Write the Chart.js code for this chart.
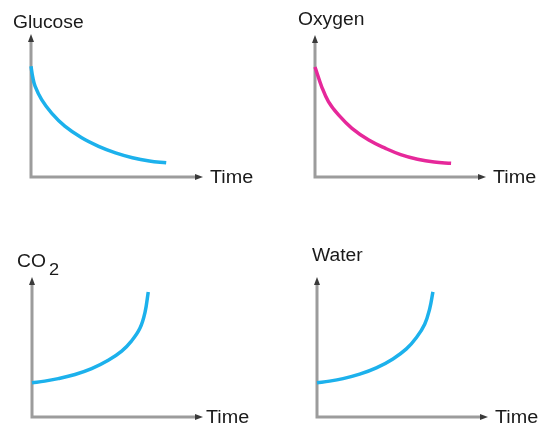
<!DOCTYPE html>
<html>
<head>
<meta charset="utf-8">
<title>Respiration graphs</title>
<script src="https://cdn.jsdelivr.net/npm/chart.js@4.4.1/dist/chart.umd.min.js"></script>
<style>
  html, body { margin: 0; padding: 0; background: #fff; }
  body { width: 547px; height: 425px; position: relative; overflow: hidden; }
  .panel { position: absolute; }
</style>
</head>
<body>
<div class="panel" style="left:0;top:0;width:273px;height:212px"><canvas id="glucose"></canvas></div>
<div class="panel" style="left:273px;top:0;width:274px;height:212px"><canvas id="oxygen"></canvas></div>
<div class="panel" style="left:0;top:212px;width:273px;height:213px"><canvas id="co2"></canvas></div>
<div class="panel" style="left:273px;top:212px;width:274px;height:213px"><canvas id="water"></canvas></div>
<script>
"use strict";

// Values, both axes on a 0-100 scale.
const glucoseTime = [0, 1, 2.4, 6.3, 12.2, 20, 30, 40, 50, 60, 70, 80];
const glucoseLevel = [78, 70.5, 64, 54.5, 45, 35.8, 27.6, 21.6, 17, 13.6, 11.3, 10];

const oxygenTime = [0, 4, 8, 14, 22, 32, 42, 51, 61, 71, 81];
const oxygenLevel = [78, 64, 53.5, 44, 34.5, 26.2, 20.3, 15.9, 12.6, 10.6, 9.7];

const co2Time = [0, 7.6, 15.6, 25.6, 35.5, 45.4, 53.4, 59.3, 64.3, 67.3, 69.2];
const co2Level = [24.7, 25.8, 27.6, 30.6, 34.8, 40.8, 47.4, 54.8, 64, 75.5, 90];

const waterTime = [0, 7.5, 15.5, 25.4, 35.3, 45.2, 53.2, 59.2, 64.1, 67.1, 69];
const waterLevel = [24.7, 25.8, 27.6, 30.8, 35.3, 41.8, 49, 57.2, 66.8, 78, 90];

const xLabel = "Time";

const FONT = '18px "Liberation Sans", Arial, sans-serif';
const CYAN = "#1cb1ec";
const MAGENTA = "#e6289a";

function toPoints(xs, ys) {
  return xs.map((x, i) => ({ x, y: ys[i] }));
}

function stretchedText(ctx, text, x, y, font, sx) {
  ctx.save();
  ctx.font = font;
  ctx.translate(x, y);
  ctx.scale(sx, 1);
  ctx.fillText(text, 0, 0);
  const w = ctx.measureText(text).width * sx;
  ctx.restore();
  return w;
}

// Axes with arrowheads, drawn under the curve.
const axesPlugin = {
  id: "sketchAxes",
  beforeDatasetsDraw(chart) {
    const { ctx, chartArea: a } = chart;
    ctx.save();
    ctx.strokeStyle = "#9c9c9c";
    ctx.lineWidth = 3;
    ctx.beginPath();
    ctx.moveTo(a.left, a.top + 4);
    ctx.lineTo(a.left, a.bottom);
    ctx.lineTo(a.right - 3, a.bottom);
    ctx.stroke();

    ctx.fillStyle = "#3a3a3a";
    ctx.beginPath();
    ctx.moveTo(a.left, a.top - 1);
    ctx.lineTo(a.left - 3, a.top + 7);
    ctx.lineTo(a.left + 3, a.top + 7);
    ctx.closePath();
    ctx.fill();

    ctx.beginPath();
    ctx.moveTo(a.right + 3, a.bottom);
    ctx.lineTo(a.right - 5, a.bottom - 3);
    ctx.lineTo(a.right - 5, a.bottom + 3);
    ctx.closePath();
    ctx.fill();
    ctx.restore();
  },
  afterDraw(chart, args, opts) {
    const { ctx, chartArea: a } = chart;
    ctx.save();
    ctx.fillStyle = "#1a1a1a";
    ctx.textBaseline = "alphabetic";
    const w = stretchedText(ctx, opts.yLabel, opts.titleX, opts.titleY, FONT, 1.07);
    if (opts.ySub) {
      stretchedText(ctx, opts.ySub, opts.titleX + w + 3, opts.titleY + 7.5,
        '17px "Liberation Sans", Arial, sans-serif', 1.07);
    }
    stretchedText(ctx, xLabel, opts.timeX, a.bottom + 6, FONT, 1.1);
    ctx.restore();
  },
};

function makeChart(id, xs, ys, color, padding, labels) {
  return new Chart(document.getElementById(id), {
    type: "line",
    data: {
      datasets: [
        {
          data: toPoints(xs, ys),
          borderColor: color,
          borderWidth: 3.5,
          pointRadius: 0,
          fill: false,
          tension: 0.4,
          clip: false,
        },
      ],
    },
    options: {
      responsive: true,
      maintainAspectRatio: false,
      animation: false,
      layout: { padding },
      plugins: {
        legend: { display: false },
        tooltip: { enabled: false },
        sketchAxes: labels,
      },
      scales: {
        x: { type: "linear", min: 0, max: 100, display: false },
        y: { min: 0, max: 100, display: false },
      },
    },
    plugins: [axesPlugin],
  });
}

makeChart("glucose", glucoseTime, glucoseLevel, CYAN,
  { left: 31, top: 35, right: 73, bottom: 35 },
  { yLabel: "Glucose", titleX: 13, titleY: 28, timeX: 210 });

makeChart("oxygen", oxygenTime, oxygenLevel, MAGENTA,
  { left: 42, top: 36, right: 64, bottom: 35 },
  { yLabel: "Oxygen", titleX: 25, titleY: 25, timeX: 220 });

makeChart("co2", co2Time, co2Level, CYAN,
  { left: 32, top: 66, right: 73, bottom: 8 },
  { yLabel: "CO", ySub: "2", titleX: 17, titleY: 55, timeX: 206 });

makeChart("water", waterTime, waterLevel, CYAN,
  { left: 44, top: 66, right: 62, bottom: 8 },
  { yLabel: "Water", titleX: 39, titleY: 49, timeX: 222 });
</script>
</body>
</html>
